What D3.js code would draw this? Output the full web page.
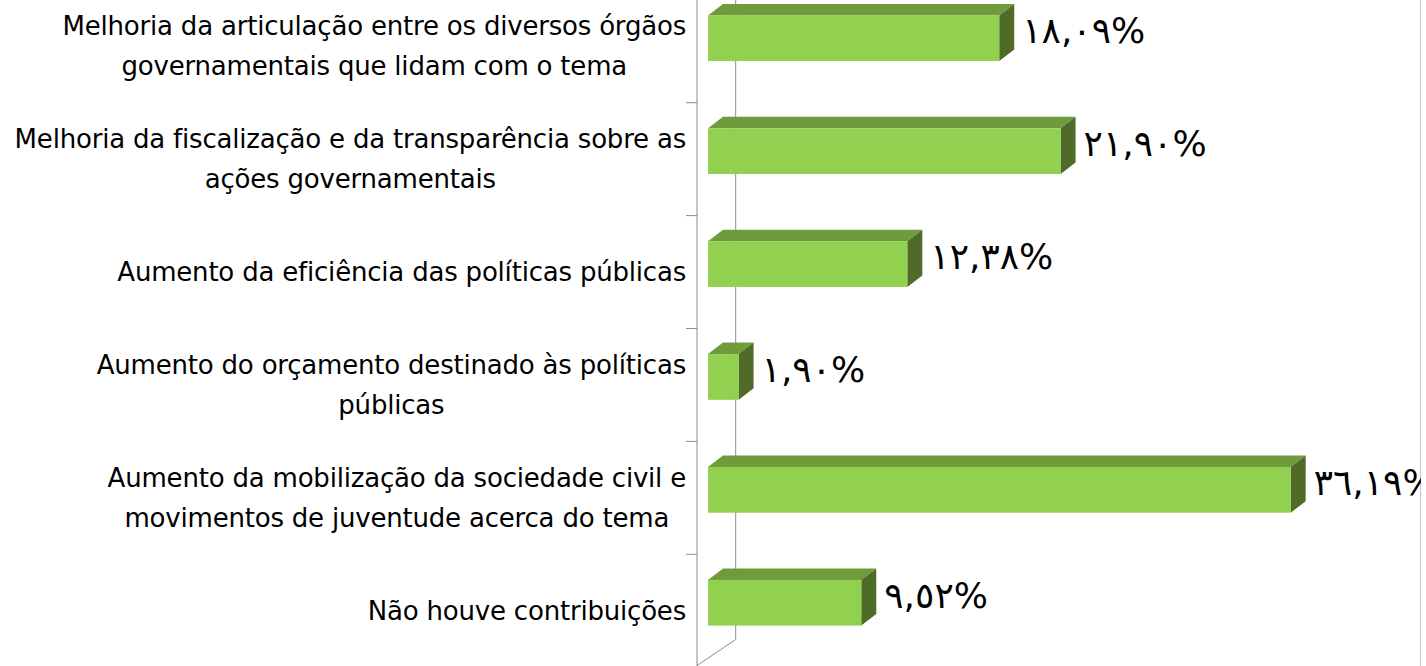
<!DOCTYPE html>
<html>
<head>
<meta charset="utf-8">
<script src="https://cdn.jsdelivr.net/npm/d3@7"></script>
<style>
  body { margin: 0; background: #fff; }
  svg { display: block; font-family: "DejaVu Sans", sans-serif; }
</style>
</head>
<body>
<figure id="chart" style="margin:0"></figure>
<script>
// categories (line-broken as in the source chart)
const categories = [
        ['Melhoria da articulação entre os diversos órgãos', 'governamentais que lidam com o tema'],
        ['Melhoria da fiscalização e da transparência sobre as', 'ações governamentais'],
        ['Aumento da eficiência das políticas públicas'],
        ['Aumento do orçamento destinado às políticas', 'públicas'],
        ['Aumento da mobilização da sociedade civil e', 'movimentos de juventude acerca do tema'],
        ['Não houve contribuições'],
];
const values = [18.09, 21.9, 12.38, 1.9, 36.19, 9.52];
const valueLabels = ['١٨,٠٩%', '٢١,٩٠%', '١٢,٣٨%', '١,٩٠%', '٣٦,١٩%', '٩,٥٢%'];

const data = categories.map((c, i) => ({ id: i, lines: c, value: values[i], label: valueLabels[i] }));

const dimensions = { width: 1426, height: 666 };
// 3d projection: full depth of the plot, and the bar's own offset/depth
const depth = { dx: 38.7, dy: -26 };
const barFront = { dx: 11, dy: -8 };
const barDepth = { dx: 15, dy: -11.5 };

const svg = d3.select('figure#chart')
        .append('svg')
        .attr('width', dimensions.width)
        .attr('height', dimensions.height);

svg.append('defs').append('clipPath').attr('id', 'clip')
        .append('rect').attr('x', 0).attr('y', 0).attr('width', 1421).attr('height', dimensions.height);

const xScale = d3.scaleLinear().domain([0, 40]).range([697, 1341]);
const yScale = d3.scaleBand().domain(data.map(d => d.id)).range([-10.2, 667.2]);
const barH = yScale.bandwidth() * 0.405;

const g = svg.append('g').attr('clip-path', 'url(#clip)');

// walls / axis lines
const x0 = xScale(0);
const floorY = 665.5;
g.append('line')
        .attr('x1', x0 + depth.dx).attr('x2', x0 + depth.dx)
        .attr('y1', 0).attr('y2', floorY + depth.dy)
        .attr('stroke', '#8c8c8c');
g.append('line')
        .attr('x1', x0).attr('x2', x0 + depth.dx)
        .attr('y1', floorY).attr('y2', floorY + depth.dy)
        .attr('stroke', '#8c8c8c');
g.append('line')
        .attr('x1', x0).attr('x2', x0)
        .attr('y1', 0).attr('y2', dimensions.height)
        .attr('stroke', '#8c8c8c');
g.append('line')
        .attr('x1', 1421).attr('x2', 1421)
        .attr('y1', 0).attr('y2', dimensions.height)
        .attr('stroke', '#8c8c8c');

// tick marks on category boundaries
g.selectAll('line.tick')
        .data(data.slice(1))
        .enter()
        .append('line')
        .attr('class', 'tick')
        .attr('x1', x0 - 11).attr('x2', x0)
        .attr('y1', d => yScale(d.id)).attr('y2', d => yScale(d.id))
        .attr('stroke', '#8c8c8c');

// bars
const bars = g.selectAll('g.bar')
        .data(data)
        .enter()
        .append('g')
        .attr('class', 'bar');

const fx = () => x0 + barFront.dx;
const fy = d => yScale(d.id) + yScale.bandwidth() / 2 - barH / 2 + barFront.dy;
const fr = d => xScale(d.value) + barFront.dx;

bars.append('path')
        .attr('d', d => {
                const l = fx(), t = fy(d), r = fr(d);
                return `M${l},${t}L${l + barDepth.dx},${t + barDepth.dy}L${r + barDepth.dx},${t + barDepth.dy}L${r},${t}Z`;
        })
        .attr('fill', '#6f9b3d');

bars.append('path')
        .attr('d', d => {
                const t = fy(d), r = fr(d);
                return `M${r},${t}L${r + barDepth.dx},${t + barDepth.dy}L${r + barDepth.dx},${t + barH + barDepth.dy}L${r},${t + barH}Z`;
        })
        .attr('fill', '#4e6b28');

bars.append('rect')
        .attr('x', fx)
        .attr('y', fy)
        .attr('width', d => fr(d) - fx())
        .attr('height', barH)
        .attr('fill', '#92d050');

// value labels
bars.append('text')
        .attr('x', d => fr(d) + barDepth.dx + 8)
        .attr('y', d => fy(d) + barH / 2 + 5)
        .attr('font-size', 36)
        .attr('fill', '#000')
        .text(d => d.label);

// category labels: widest line right-aligned, lines centered in the block
const labelRight = 686;
const lineH = 40;
const labels = svg.selectAll('text.cat')
        .data(data)
        .enter()
        .append('text')
        .attr('class', 'cat')
        .attr('font-size', 26)
        .attr('letter-spacing', -0.2)
        .attr('text-anchor', 'middle')
        .attr('fill', '#000');

labels.each(function(d) {
        const t = d3.select(this);
        const cy = yScale(d.id) + yScale.bandwidth() / 2;
        const top = cy - (d.lines.length - 1) * lineH / 2;
        d.lines.forEach((line, k) => {
                t.append('tspan')
                        .attr('y', top + k * lineH + 9)
                        .text(line);
        });
        let w = 0;
        t.selectAll('tspan').each(function() {
                w = Math.max(w, this.getComputedTextLength());
        });
        t.selectAll('tspan').attr('x', labelRight - w / 2);
});
</script>
</body>
</html>
